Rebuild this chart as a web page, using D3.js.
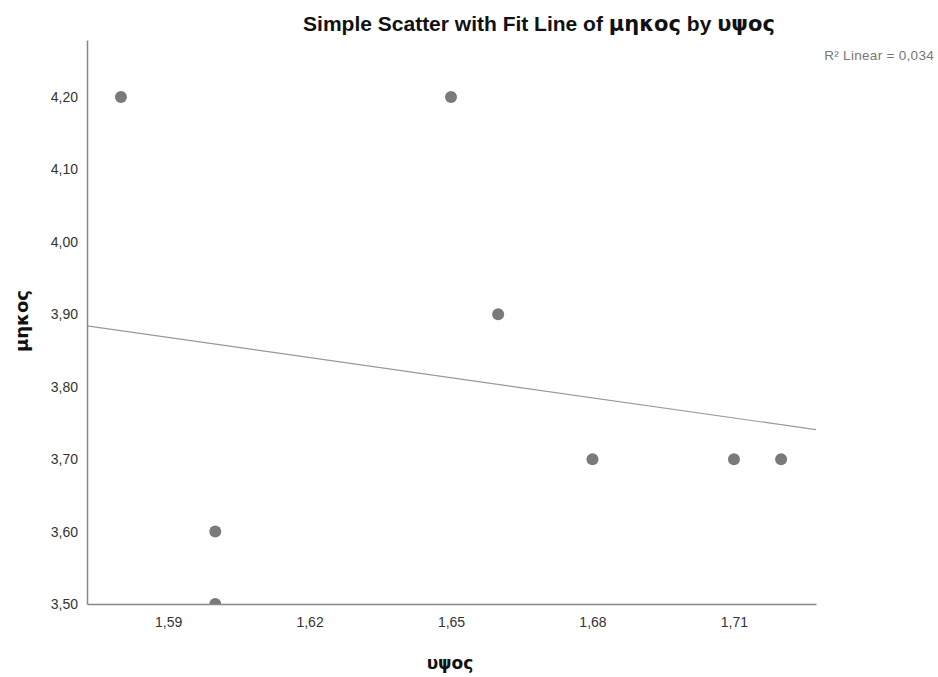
<!DOCTYPE html>
<html>
<head>
<meta charset="utf-8">
<script src="https://cdn.jsdelivr.net/npm/d3@7"></script>
<style>
  body { margin: 0; background: #fff; }
  text { font-family: "Liberation Sans", Arial, sans-serif; }
  .greek { font-family: "DejaVu Sans", sans-serif; }
</style>
</head>
<body>
<div id="chart"></div>
<script>
// data
const heights = [1.58, 1.65, 1.66, 1.68, 1.71, 1.72, 1.60, 1.60]; // υψος
const lengths = [4.2, 4.2, 3.9, 3.7, 3.7, 3.7, 3.6, 3.5]; // μηκος
const xTicks = [1.59, 1.62, 1.65, 1.68, 1.71];
const yTicks = [3.5, 3.6, 3.7, 3.8, 3.9, 4.0, 4.1, 4.2];

const width = 938, height = 677;
const margin = { top: 40, right: 122, bottom: 73, left: 87 };

const svg = d3.select("#chart").append("svg")
  .attr("width", width).attr("height", height);

const x = d3.scaleLinear([1.5728, 1.7274], [margin.left, width - margin.right]);
const y = d3.scaleLinear([3.5, 4.2787], [height - margin.bottom, margin.top]);

const fmt = (d) => d.toFixed(2).replace(".", ",");

// clip so the bottom point gets cut by the axis like in SPSS
svg.append("clipPath").attr("id", "plotClip")
  .append("rect")
  .attr("x", margin.left).attr("y", margin.top)
  .attr("width", width - margin.right - margin.left)
  .attr("height", height - margin.bottom - margin.top);

// least squares fit
const mx = d3.mean(heights), my = d3.mean(lengths);
let sxy = 0, sxx = 0, syy = 0;
heights.forEach((h, i) => {
  sxy += (h - mx) * (lengths[i] - my);
  sxx += (h - mx) ** 2;
  syy += (lengths[i] - my) ** 2;
});
const slope = sxy / sxx, intercept = my - slope * mx;
const r2 = (sxy * sxy) / (sxx * syy);

const plot = svg.append("g").attr("clip-path", "url(#plotClip)");

plot.append("line")
  .attr("x1", x(x.domain()[0])).attr("y1", y(intercept + slope * x.domain()[0]))
  .attr("x2", x(x.domain()[1])).attr("y2", y(intercept + slope * x.domain()[1]))
  .attr("stroke", "#999").attr("stroke-width", 1.2);

plot.selectAll("circle")
  .data(heights)
  .join("circle")
  .attr("cx", (d) => x(d))
  .attr("cy", (d, i) => y(lengths[i]))
  .attr("r", 6)
  .attr("fill", "#7a7a7a");

// axes
const xAxis = svg.append("g")
  .attr("transform", `translate(0,${height - margin.bottom})`)
  .call(d3.axisBottom(x).tickValues(xTicks).tickFormat(fmt).tickSize(0).tickPadding(13));
const yAxis = svg.append("g")
  .attr("transform", `translate(${margin.left},0)`)
  .call(d3.axisLeft(y).tickValues(yTicks).tickFormat(fmt).tickSize(0).tickPadding(9));

[xAxis, yAxis].forEach((a) => {
  a.select(".domain").attr("stroke", "#888").attr("stroke-width", 1.5);
  a.selectAll(".tick text")
    .attr("font-family", "Liberation Sans, Arial, sans-serif")
    .attr("font-size", 14).attr("fill", "#333");
});

// labels
const title = svg.append("text")
  .attr("x", 539).attr("y", 31)
  .attr("text-anchor", "middle")
  .attr("font-size", 21).attr("font-weight", "bold").attr("fill", "#111");
title.append("tspan").text("Simple Scatter with Fit Line of ");
title.append("tspan").attr("class", "greek").text("μηκος");
title.append("tspan").text(" by ");
title.append("tspan").attr("class", "greek").text("υψος");

svg.append("text")
  .attr("class", "greek")
  .attr("x", 450).attr("y", 669)
  .attr("text-anchor", "middle")
  .attr("font-size", 17).attr("font-weight", "bold").attr("fill", "#111")
  .text("υψος");

svg.append("text")
  .attr("class", "greek")
  .attr("transform", "translate(28,321) rotate(-90)")
  .attr("text-anchor", "middle")
  .attr("font-size", 18).attr("font-weight", "bold").attr("fill", "#111")
  .text("μηκος");

svg.append("text")
  .attr("x", 934).attr("y", 60)
  .attr("text-anchor", "end")
  .attr("font-size", 13.5).attr("letter-spacing", 0.3).attr("fill", "#777")
  .text("R² Linear = " + r2.toFixed(3).replace(".", ","));
</script>
</body>
</html>
